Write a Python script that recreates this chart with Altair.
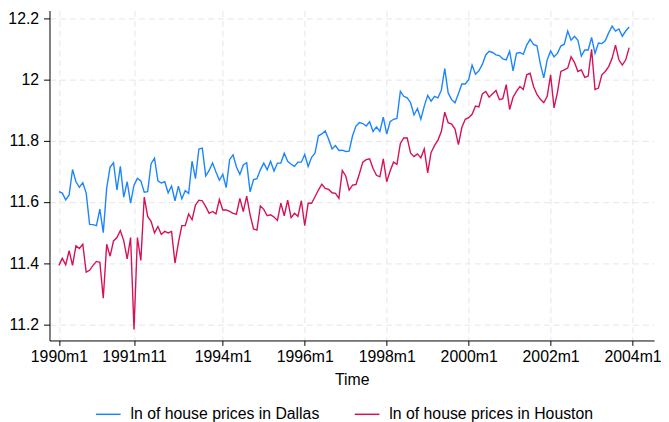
import altair as alt
import pandas as pd

start_year = 1990
n_months = 168

dallas = [
    11.634, 11.629, 11.607, 11.623, 11.706, 11.666, 11.648, 11.663, 11.629, 11.527,
    11.526, 11.523, 11.577, 11.500, 11.645, 11.714, 11.728, 11.639, 11.716, 11.616,
    11.666, 11.596, 11.655, 11.677, 11.669, 11.632, 11.634, 11.725, 11.743, 11.669,
    11.662, 11.666, 11.630, 11.652, 11.604, 11.652, 11.610, 11.637, 11.628, 11.733,
    11.676, 11.773, 11.776, 11.685, 11.703, 11.727, 11.698, 11.671, 11.690, 11.647,
    11.738, 11.754, 11.714, 11.690, 11.721, 11.728, 11.633, 11.673, 11.676, 11.705,
    11.727, 11.705, 11.733, 11.701, 11.727, 11.727, 11.759, 11.733, 11.723, 11.716,
    11.730, 11.730, 11.755, 11.716, 11.746, 11.759, 11.816, 11.822, 11.832, 11.805,
    11.773, 11.784, 11.768, 11.769, 11.765, 11.766, 11.816, 11.848, 11.859, 11.856,
    11.848, 11.862, 11.830, 11.845, 11.830, 11.877, 11.822, 11.862, 11.870, 11.873,
    11.961, 11.945, 11.940, 11.924, 11.884, 11.905, 11.870, 11.913, 11.948, 11.929,
    11.945, 11.940, 11.965, 12.035, 11.956, 11.934, 11.924, 11.953, 11.985, 11.985,
    11.999, 12.047, 12.017, 12.028, 12.049, 12.080, 12.092, 12.088, 12.080, 12.078,
    12.067, 12.064, 12.092, 12.028, 12.085, 12.088, 12.082, 12.112, 12.131, 12.114,
    12.110, 12.050, 12.005, 12.064, 12.093, 12.074, 12.085, 12.109, 12.115, 12.158,
    12.128, 12.141, 12.128, 12.076, 12.096, 12.096, 12.137, 12.085, 12.119, 12.117,
    12.126, 12.152, 12.174, 12.158, 12.165, 12.141, 12.158, 12.171,
]

houston = [
    11.393, 11.416, 11.395, 11.441, 11.393, 11.457, 11.448, 11.462, 11.371, 11.377,
    11.393, 11.406, 11.403, 11.286, 11.462, 11.423, 11.473, 11.484, 11.507, 11.473,
    11.414, 11.484, 11.184, 11.484, 11.409, 11.616, 11.553, 11.537, 11.499, 11.520,
    11.494, 11.504, 11.499, 11.504, 11.400, 11.467, 11.523, 11.523, 11.561, 11.542,
    11.590, 11.606, 11.604, 11.585, 11.563, 11.569, 11.561, 11.608, 11.574, 11.574,
    11.569, 11.563, 11.560, 11.612, 11.569, 11.619, 11.558, 11.512, 11.508, 11.587,
    11.576, 11.555, 11.558, 11.551, 11.540, 11.596, 11.555, 11.606, 11.549, 11.563,
    11.553, 11.604, 11.523, 11.596, 11.596, 11.617, 11.639, 11.658, 11.644, 11.641,
    11.630, 11.628, 11.612, 11.703, 11.685, 11.639, 11.655, 11.657, 11.692, 11.730,
    11.738, 11.741, 11.709, 11.687, 11.682, 11.741, 11.666, 11.701, 11.730, 11.723,
    11.791, 11.809, 11.809, 11.759, 11.748, 11.757, 11.744, 11.773, 11.695, 11.762,
    11.784, 11.802, 11.830, 11.893, 11.859, 11.854, 11.838, 11.787, 11.843, 11.870,
    11.875, 11.886, 11.913, 11.910, 11.953, 11.961, 11.942, 11.953, 11.964, 11.934,
    11.937, 11.983, 11.902, 11.942, 11.961, 11.977, 11.967, 12.015, 12.020, 11.977,
    11.951, 11.935, 11.924, 11.945, 12.015, 11.907, 11.958, 12.026, 12.031, 12.037,
    12.074, 12.055, 12.026, 12.031, 12.007, 12.011, 12.098, 11.967, 11.972, 12.015,
    12.026, 12.042, 12.069, 12.112, 12.064, 12.047, 12.064, 12.104,
]

series_names = ["ln of house prices in Dallas", "ln of house prices in Houston"]
series_colors = ["#1a85ff", "#d41159"]
x_tick_months = [0, 22, 48, 72, 96, 120, 144, 168]
y_ticks = [11.2, 11.4, 11.6, 11.8, 12.0, 12.2]

rows = []
for i in range(n_months):
    rows.append({"t": i, "value": dallas[i], "series": series_names[0]})
for i in range(n_months):
    rows.append({"t": i, "value": houston[i], "series": series_names[1]})
df = pd.DataFrame(rows)

FONT = "Liberation Sans"
FS = 16

chart = (
    alt.Chart(df)
    .mark_line(strokeWidth=1.4)
    .encode(
        x=alt.X(
            "t:Q",
            title="Time",
            scale=alt.Scale(domain=[-2.75, 174.3], nice=False, zero=False),
            axis=alt.Axis(
                values=x_tick_months,
                labelExpr=f"({start_year} + floor(datum.value / 12)) + 'm' + (datum.value % 12 + 1)",
                tickSize=5,
                labelPadding=3,
                titlePadding=8,
            ),
        ),
        y=alt.Y(
            "value:Q",
            title=None,
            scale=alt.Scale(domain=[11.148, 12.225], nice=False, zero=False),
            axis=alt.Axis(values=y_ticks, format="~g", tickSize=6, labelPadding=5),
        ),
        color=alt.Color(
            "series:N",
            scale=alt.Scale(domain=series_names, range=series_colors),
            legend=alt.Legend(
                title=None,
                orient="none",
                direction="horizontal",
                legendX=46,
                legendY=395,
                symbolType="stroke",
                symbolSize=625,
                symbolStrokeWidth=1.5,
                labelOffset=9,
                columnPadding=32,
                labelFontSize=FS,
                labelFont=FONT,
                labelColor="#000000",
                labelLimit=0,
                padding=0,
            ),
        ),
    )
    .properties(
        width=612,
        height=334,
        background="white",
        autosize=alt.AutoSizeParams(type="none"),
        padding={"left": 42, "top": 0, "right": 7, "bottom": 80},
    )
    .configure_view(stroke=None)
    .configure_axis(
        labelFont=FONT,
        titleFont=FONT,
        labelFontSize=FS,
        titleFontSize=FS,
        titleFontWeight="normal",
        labelColor="#000000",
        titleColor="#000000",
        domainColor="#000000",
        tickColor="#000000",
        domainWidth=1,
        tickWidth=1,
        gridColor="#e6e6e6",
        gridDash=[6, 4],
        gridWidth=1,
    )
)

chart.save("out.html", embed_options={"renderer": "svg", "actions": False})
